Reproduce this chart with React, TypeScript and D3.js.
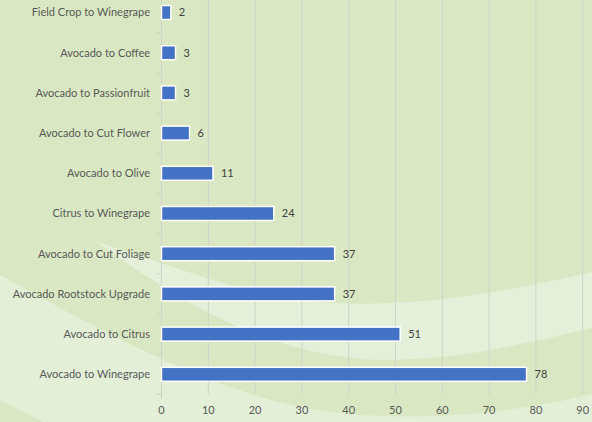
import React from "react";
import * as d3 from "d3";

const categories = [
  "Field Crop to Winegrape",
  "Avocado to Coffee",
  "Avocado to Passionfruit",
  "Avocado to Cut Flower",
  "Avocado to Olive",
  "Citrus to Winegrape",
  "Avocado to Cut Foliage",
  "Avocado Rootstock Upgrade",
  "Avocado to Citrus",
  "Avocado to Winegrape",
];
const values = [2, 3, 3, 6, 11, 24, 37, 37, 51, 78];
const xTicks = [0, 10, 20, 30, 40, 50, 60, 70, 80, 90];

const W = 592;
const H = 422;
const FONT = "Lato, 'Open Sans', sans-serif";

export default function App() {
  const x = d3.scaleLinear().domain([0, 90]).range([161.5, 582.7]);
  const y = d3
    .scaleBand<string>()
    .domain(categories)
    .range([-7.6, 394.4])
    .paddingInner(0)
    .paddingOuter(0);
  const bw = y.bandwidth();
  const barH = 14;

  const boundaries = d3.range(categories.length + 1).map((i) => -7.6 + i * bw);

  return (
    <svg
      width={W}
      height={H}
      style={{ position: "fixed", top: 0, left: 0, display: "block" }}
      fontFamily={FONT}
    >
      {/* background */}
      <rect x={0} y={0} width={W} height={H} fill="#d9e8c2" />
      <path
        d="M0,275 C100,330 220,398 330,412 C420,423 520,412 592,394 L592,422 L43,422 L0,400 Z"
        fill="#e3efd6"
      />
      <path
        d="M97,242 C180,268 250,298 330,303 C430,308 520,288 592,272 L592,328 C520,345 460,360 380,360 C280,358 190,310 97,242 Z"
        fill="#e4f0d9"
      />

      {/* gridlines */}
      {xTicks.map((t) => (
        <line
          key={"g" + t}
          x1={x(t)}
          x2={x(t)}
          y1={0}
          y2={394.4}
          stroke="#cfd3c9"
          strokeWidth={1}
        />
      ))}

      {/* category axis */}
      <line x1={161.5} x2={161.5} y1={0} y2={399} stroke="#cfd3c9" strokeWidth={1} />
      {boundaries.map((b, i) => (
        <line key={"t" + i} x1={157} x2={161.5} y1={b} y2={b} stroke="#cfd3c9" strokeWidth={1} />
      ))}

      {/* bars */}
      {categories.map((c, i) => {
        const cy = (y(c) as number) + bw / 2;
        return (
          <g key={c}>
            <rect
              x={x(0)}
              y={cy - barH / 2}
              width={x(values[i]) - x(0)}
              height={barH}
              fill="#4472c4"
              stroke="#ffffff"
              strokeWidth={1.5}
            />
            <text
              x={x(values[i]) + 8}
              y={cy}
              dy="0.35em"
              fontSize={11}
              fill="#404040"
            >
              {values[i]}
            </text>
            <text
              x={150}
              y={cy}
              dy="0.35em"
              textAnchor="end"
              fontSize={11}
              fill="#595959"
            >
              {c}
            </text>
          </g>
        );
      })}

      {/* x tick labels */}
      {xTicks.map((t) => (
        <text
          key={"l" + t}
          x={x(t)}
          y={413.5}
          textAnchor="middle"
          fontSize={11}
          fill="#595959"
        >
          {t}
        </text>
      ))}
    </svg>
  );
}
